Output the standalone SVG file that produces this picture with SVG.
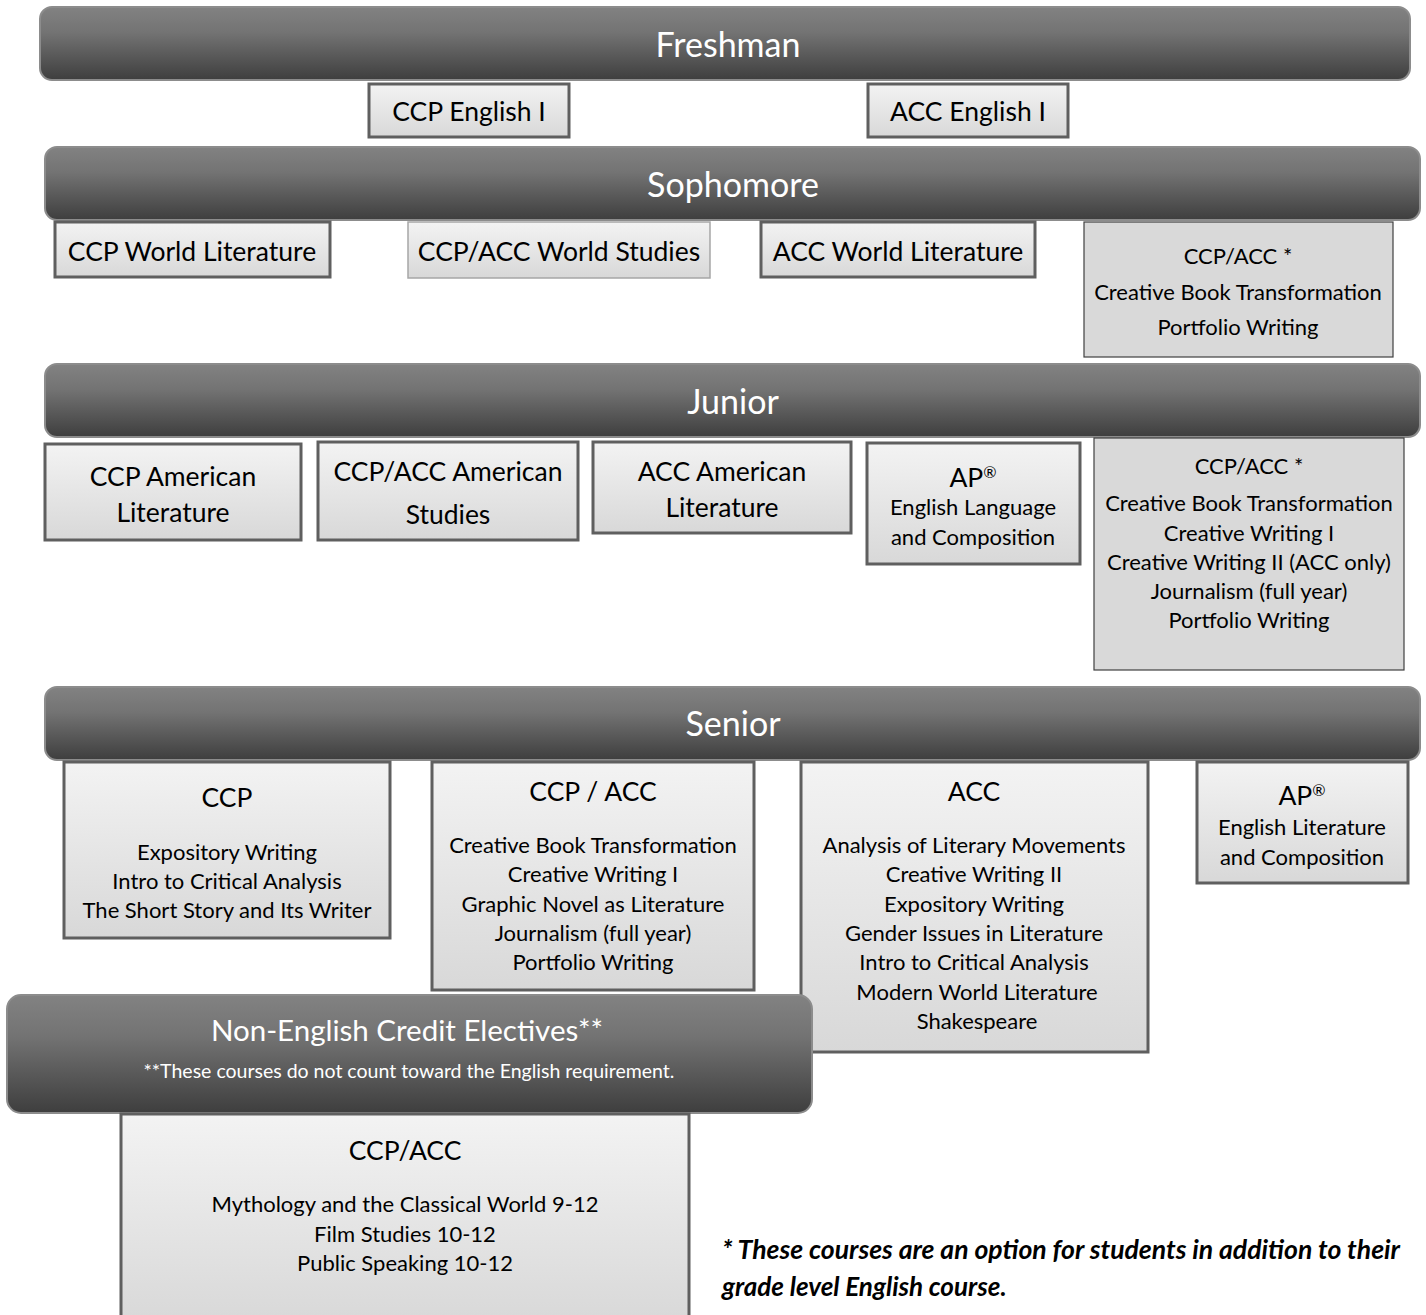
<svg xmlns="http://www.w3.org/2000/svg" width="1426" height="1315" viewBox="0 0 1426 1315">
<defs>
<linearGradient id="dark" x1="0" y1="0" x2="0" y2="1">
<stop offset="0" stop-color="#828282"/>
<stop offset="0.35" stop-color="#737373"/>
<stop offset="1" stop-color="#3e3e3e"/>
</linearGradient>
<linearGradient id="light" x1="0" y1="0" x2="0" y2="1">
<stop offset="0" stop-color="#f3f3f3"/>
<stop offset="1" stop-color="#d8d8d8"/>
</linearGradient>
<style>
.banner{fill:url(#dark);stroke:#8c8c8c;stroke-width:2}
.box{fill:url(#light);stroke:#5f5f5f;stroke-width:3}
.box2{fill:url(#light);stroke:#a6a6a6;stroke-width:1.5}
.flat{fill:#d9d9d9;stroke:#404040;stroke-width:1.2}
text{font-family:Lato,"Liberation Sans",sans-serif;text-anchor:middle;fill:#000}
.bt{fill:#fff;font-size:34px}
.t26{font-size:26.5px}
.t21{font-size:22px}
.foot{font-weight:bold;font-style:italic;font-size:26px;text-anchor:start}
</style>
</defs>

<g id="freshman">
<rect class="banner" x="40" y="7" width="1370" height="73" rx="12"/>
<text class="bt" x="728" y="57">Freshman</text>
</g>
<g id="ccp-english-1">
<rect class="box" x="369" y="84" width="200" height="53"/>
<text class="t26" x="469" y="121">CCP English I</text>
</g>
<g id="acc-english-1">
<rect class="box" x="868" y="84" width="200" height="53"/>
<text class="t26" x="968" y="121">ACC English I</text>
</g>

<g id="sophomore">
<rect class="banner" x="45" y="147" width="1375" height="73" rx="12"/>
<text class="bt" x="733" y="197">Sophomore</text>
</g>
<g id="ccp-world-lit">
<rect class="box" x="55" y="222" width="275" height="55"/>
<text class="t26" x="192" y="261">CCP World Literature</text>
</g>
<g id="ccp-acc-world-studies">
<rect class="box2" x="408" y="222" width="302" height="56"/>
<text class="t26" x="559" y="261">CCP/ACC World Studies</text>
</g>
<g id="acc-world-lit">
<rect class="box" x="761" y="222" width="274" height="55"/>
<text class="t26" x="898" y="261">ACC World Literature</text>
</g>
<g id="soph-electives">
<rect class="flat" x="1084" y="222" width="309" height="135"/>
<text class="t21" x="1238" y="264">CCP/ACC *</text>
<text class="t21" x="1238" y="300">Creative Book Transformation</text>
<text class="t21" x="1238" y="335">Portfolio Writing</text>
</g>

<g id="junior">
<rect class="banner" x="45" y="364" width="1375" height="73" rx="12"/>
<text class="bt" x="733" y="414">Junior</text>
</g>
<g id="ccp-american-lit">
<rect class="box" x="45" y="444" width="256" height="96"/>
<text class="t26" x="173" y="486">CCP American</text>
<text class="t26" x="173" y="522">Literature</text>
</g>
<g id="ccp-acc-american-studies">
<rect class="box" x="318" y="442" width="260" height="98"/>
<text class="t26" x="448" y="481">CCP/ACC American</text>
<text class="t26" x="448" y="524">Studies</text>
</g>
<g id="acc-american-lit">
<rect class="box" x="593" y="442" width="258" height="91"/>
<text class="t26" x="722" y="481">ACC American</text>
<text class="t26" x="722" y="517">Literature</text>
</g>
<g id="ap-english-lang">
<rect class="box" x="867" y="443" width="213" height="121"/>
<text class="t26" x="973" y="487">AP<tspan font-size="16" dy="-9">®</tspan></text>
<text class="t21" x="973" y="515">English Language</text>
<text class="t21" x="973" y="545">and Composition</text>
</g>
<g id="junior-electives">
<rect class="flat" x="1094" y="438" width="310" height="232"/>
<text class="t21" x="1249" y="474">CCP/ACC *</text>
<text class="t21" x="1249" y="511">Creative Book Transformation</text>
<text class="t21" x="1249" y="541">Creative Writing I</text>
<text class="t21" x="1249" y="570">Creative Writing II (ACC only)</text>
<text class="t21" x="1249" y="599">Journalism (full year)</text>
<text class="t21" x="1249" y="628">Portfolio Writing</text>
</g>

<g id="senior">
<rect class="banner" x="45" y="687" width="1375" height="73" rx="12"/>
<text class="bt" x="733" y="736">Senior</text>
</g>
<g id="senior-ccp">
<rect class="box" x="64" y="762" width="326" height="176"/>
<text class="t26" x="227" y="807">CCP</text>
<text class="t21" x="227" y="860">Expository Writing</text>
<text class="t21" x="227" y="889">Intro to Critical Analysis</text>
<text class="t21" x="227" y="918">The Short Story and Its Writer</text>
</g>
<g id="senior-ccp-acc">
<rect class="box" x="432" y="762" width="322" height="228"/>
<text class="t26" x="593" y="801">CCP / ACC</text>
<text class="t21" x="593" y="853">Creative Book Transformation</text>
<text class="t21" x="593" y="882">Creative Writing I</text>
<text class="t21" x="593" y="912">Graphic Novel as Literature</text>
<text class="t21" x="593" y="941">Journalism (full year)</text>
<text class="t21" x="593" y="970">Portfolio Writing</text>
</g>
<g id="senior-acc">
<rect class="box" x="801" y="762" width="347" height="290"/>
<text class="t26" x="974" y="801">ACC</text>
<text class="t21" x="974" y="853">Analysis of Literary Movements</text>
<text class="t21" x="974" y="882">Creative Writing II</text>
<text class="t21" x="974" y="912">Expository Writing</text>
<text class="t21" x="974" y="941">Gender Issues in Literature</text>
<text class="t21" x="974" y="970">Intro to Critical Analysis</text>
<text class="t21" x="977" y="1000">Modern World Literature</text>
<text class="t21" x="977" y="1029">Shakespeare</text>
</g>
<g id="senior-ap">
<rect class="box" x="1197" y="762" width="211" height="121"/>
<text class="t26" x="1302" y="805">AP<tspan font-size="16" dy="-9">®</tspan></text>
<text class="t21" x="1302" y="835">English Literature</text>
<text class="t21" x="1302" y="865">and Composition</text>
</g>

<g id="non-english">
<rect class="banner" x="7" y="995" width="805" height="118" rx="14"/>
<text x="407" y="1041" style="fill:#fff;font-size:29.5px">Non-English Credit Electives**</text>
<text x="409" y="1078" style="fill:#fff;font-size:19.5px">**These courses do not count toward the English requirement.</text>
</g>
<g id="non-english-courses">
<rect class="box" x="121" y="1114" width="568" height="210"/>
<text class="t26" x="405" y="1160">CCP/ACC</text>
<text class="t21" x="405" y="1212">Mythology and the Classical World 9-12</text>
<text class="t21" x="405" y="1242">Film Studies 10-12</text>
<text class="t21" x="405" y="1271">Public Speaking 10-12</text>
</g>

<g id="footnote">
<text class="foot" x="722" y="1259" textLength="678" lengthAdjust="spacingAndGlyphs">* These courses are an option for students in addition to their</text>
<text class="foot" x="722" y="1296">grade level English course.</text>
</g>
</svg>
